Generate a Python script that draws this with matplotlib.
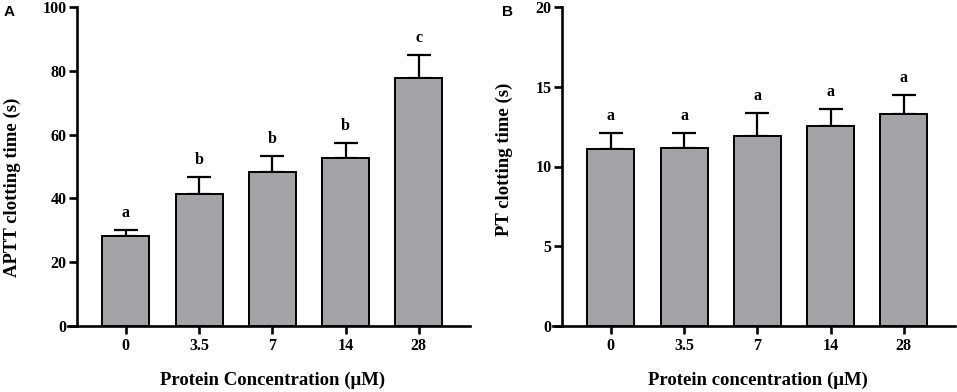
import matplotlib
matplotlib.use("Agg")
import matplotlib.pyplot as plt
import numpy as np

categories = ["0", "3.5", "7", "14", "28"]
aptt_mean = [28.2, 41.4, 48.2, 52.8, 77.6]
aptt_err = [1.9, 5.2, 5.1, 4.6, 7.3]
aptt_letters = ["a", "b", "b", "b", "c"]
pt_mean = [11.07, 11.19, 11.9, 12.55, 13.32]
pt_err = [1.0, 0.88, 1.46, 1.04, 1.18]
pt_letters = ["a", "a", "a", "a", "a"]

W, H = 957, 392
fig = plt.figure(figsize=(W / 100, H / 100), dpi=100)

serif = ["Liberation Serif", "DejaVu Serif"]
BAR = "#a3a2a7"


def px_axes(left, right, top, bottom):
    return fig.add_axes([left / W, 1 - bottom / H, (right - left) / W, (bottom - top) / H])


def panel(ax, means, errs, letters, ymax, step, ylabel, xlabel, ylab_x, ylab_y):
    x = np.arange(len(categories))
    ax.bar(x, means, width=0.64, color=BAR, edgecolor="black", linewidth=1.4, zorder=3)
    ax.errorbar(x, means, yerr=[np.zeros(len(errs)), errs], fmt="none", ecolor="black",
                elinewidth=1.6, capsize=8.3, capthick=1.6, zorder=2)
    for xi, m, e, t in zip(x, means, errs, letters):
        ax.annotate(t, (xi, m + e), xytext=(0, 9.5), textcoords="offset points",
                    ha="center", va="baseline", fontsize=11.5, fontweight="bold",
                    family=serif)
    ax.set_xlim(-0.79, 4.70)
    ax.set_ylim(0, ymax)
    ax.set_yticks(np.arange(0, ymax + 0.1, step))
    ax.set_xticks(x)
    ax.set_xticklabels(categories)
    for s in ["top", "right"]:
        ax.spines[s].set_visible(False)
    ax.spines["left"].set_position(("data", -0.67))
    for s in ["left", "bottom"]:
        ax.spines[s].set_linewidth(1.9)
    ax.tick_params(axis="both", width=1.9, length=5.5, labelsize=11.5)
    ax.tick_params(axis="y", pad=2)
    ax.tick_params(axis="x", pad=3.5)
    for lab in ax.get_xticklabels() + ax.get_yticklabels():
        lab.set_fontfamily(serif)
        lab.set_fontweight("bold")
    ax.set_ylabel(ylabel, fontsize=13.5, fontweight="bold", family=serif)
    ax.set_xlabel(xlabel, fontsize=13.5, fontweight="bold", family=serif)
    ax.yaxis.set_label_coords(ylab_x, ylab_y)
    ax.xaxis.set_label_coords(0.51, -0.169)
    ax.xaxis.label.set_va("center")
    ax.yaxis.label.set_va("center")


axA = px_axes(68, 470, 7, 326)
panel(axA, aptt_mean, aptt_err, aptt_letters, 100, 20, "APTT clotting time (s)",
      "Protein Concentration (\u03bcM)", -0.139, 0.436)
axB = px_axes(553, 955, 7, 326)
panel(axB, pt_mean, pt_err, pt_letters, 20, 5, "PT clotting time (s)",
      "Protein concentration (\u03bcM)", -0.121, 0.524)

fig.text(4 / W, 1 - 5 / H, "A", fontsize=11, fontweight="bold", family="Liberation Sans",
         ha="left", va="top")
fig.text(502 / W, 1 - 5 / H, "B", fontsize=11, fontweight="bold", family="Liberation Sans",
         ha="left", va="top")

fig.savefig("out.png", dpi=100)
